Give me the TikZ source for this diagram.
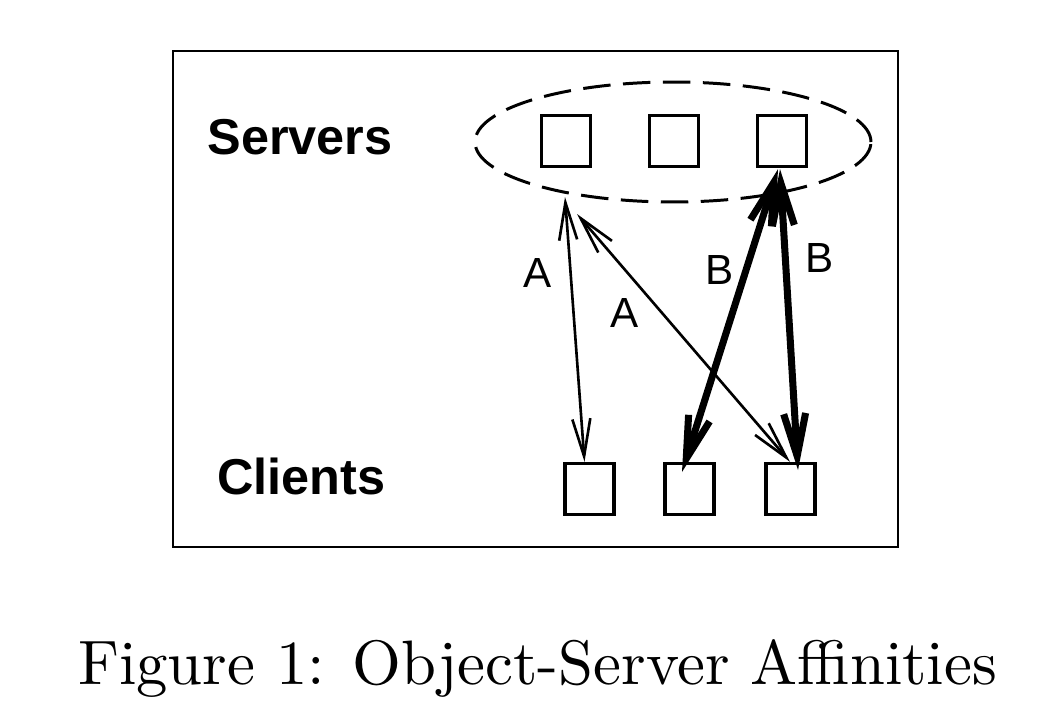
\documentclass[tikz,border=0pt]{standalone}
\usepackage{fontspec}
\newfontfamily\helv{Liberation Sans}
\usetikzlibrary{shapes.geometric,arrows.meta,calc}
\begin{document}
\begin{tikzpicture}[x=0.02cm,y=-0.02cm,
  box/.style={draw,line width=1.9pt,minimum width=0.98cm,minimum height=1.02cm,inner sep=0pt},
  grouplabel/.style={font=\helv\fontsize{28.7}{30}\selectfont\bfseries,inner sep=0pt},
  arrlabel/.style={font=\helv\fontsize{24}{26}\selectfont,inner sep=0pt},
  thinarrow/.style={line width=1.5pt,{Straight Barb[length=7.5mm,width=3.6mm]}-{Straight Barb[length=7.5mm,width=3.6mm]}},
  thickarrow/.style={line width=4pt,{Straight Barb[length=8.5mm,width=4.4mm]}-{Straight Barb[length=8.5mm,width=4.4mm]}}
]
\useasboundingbox (0,0) rectangle (1054,720);
\node[draw,line width=1.4pt,minimum width=14.5cm,minimum height=9.92cm,inner sep=0pt] (frame) at (535.5,299) {};
\node[draw,ellipse,line width=1.7pt,dash pattern=on 0.55cm off 0.25cm,minimum width=7.92cm,minimum height=2.4cm,inner sep=0pt] (group) at (673,142) {};
\node[box] (s1) at (566,141) {};
\node[box] (s2) at (674,141) {};
\node[box] (s3) at (782,141) {};
\node[box] (c1) at (589.5,489) {};
\node[box] (c2) at (689.5,489) {};
\node[box] (c3) at (790.5,489) {};
\node[grouplabel] (servers) at (300,137) {Servers};
\node[grouplabel] (clients) at (301.5,476) {Clients};
\coordinate (a1top) at (565,197);
\coordinate (a2top) at (577,214);
\draw[thinarrow] (a1top) -- ($(c1.north)+(-5,0)$);
\draw[thinarrow] (a2top) -- ($(c3.north)+(-0.5,0)$);
\draw[thickarrow] ($(s3.south)+(-4,1)$) -- ($(c2.center)+(-7.5,-17)$);
\draw[thickarrow] ($(s3.south)+(-2,1)$) -- ($(c3.center)+(7.5,-19)$);
\node[arrlabel] (la1) at (537.5,272.5) {A};
\node[arrlabel] (la2) at (625,312.5) {A};
\node[arrlabel] (lb1) at (719.5,270) {B};
\node[arrlabel] (lb2) at (820,257.5) {B};
\node[inner sep=0pt] (caption) at (537.5,668) {\resizebox{18.38cm}{!}{Figure 1: Object-Server Affinities}};
\end{tikzpicture}
\end{document}
